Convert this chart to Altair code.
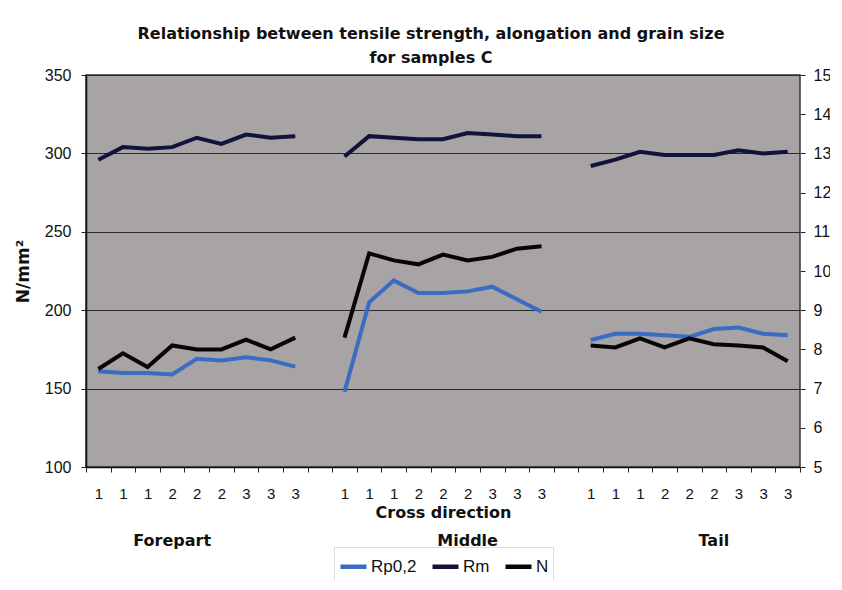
import altair as alt
import pandas as pd

# ---------------- data ----------------
groups = ["Forepart", "Middle", "Tail"]
cross_labels = ["1", "1", "1", "2", "2", "2", "3", "3", "3"]

rp02_fore = [161, 160, 160, 159, 169, 168, 170, 168, 164]
rp02_mid = [148, 205, 219, 211, 211, 212, 215, 207, 199]
rp02_tail = [181, 185, 185, 184, 183, 188, 189, 185, 184]

rm_fore = [296, 304, 303, 304, 310, 306, 312, 310, 311]
rm_mid = [298, 311, 310, 309, 309, 313, 312, 311, 311]
rm_tail = [292, 296, 301, 299, 299, 299, 302, 300, 301]

n_fore = [7.5, 7.9, 7.55, 8.1, 8.0, 8.0, 8.25, 8.0, 8.3]
n_mid = [8.3, 10.45, 10.27, 10.17, 10.42, 10.27, 10.36, 10.57, 10.63]
n_tail = [8.1, 8.05, 8.28, 8.05, 8.28, 8.13, 8.1, 8.05, 7.7]

series_names = ["Rp0,2", "Rm", "N"]
series_colors = ["#3a6cc4", "#12133a", "#060606"]

# ---------------- build tables ----------------
n_per = len(cross_labels)
keys = []
labels = []
group_start = {}
for gi, g in enumerate(groups):
    group_start[g] = len(keys)
    for j in range(n_per):
        keys.append(f"c{len(keys):02d}")
        labels.append(cross_labels[j])
    if gi < len(groups) - 1:
        keys.append(f"c{len(keys):02d}")
        labels.append("")

label_map = ",".join(f"'{k}':'{l}'" for k, l in zip(keys, labels))
label_expr = "{" + label_map + "}[datum.value]"

rows_left = []
rows_right = []
series_data = {
    "Rp0,2": [rp02_fore, rp02_mid, rp02_tail],
    "Rm": [rm_fore, rm_mid, rm_tail],
    "N": [n_fore, n_mid, n_tail],
}
for s, parts in series_data.items():
    for g, vals in zip(groups, parts):
        for j, v in enumerate(vals):
            rec = {"pos": keys[group_start[g] + j], "series": s, "group": g, "value": v}
            (rows_right if s == "N" else rows_left).append(rec)

df_left = pd.DataFrame(rows_left)
df_right = pd.DataFrame(rows_right)

label_pos = [keys[3], keys[15], keys[25]]
df_groups = pd.DataFrame({"pos": label_pos, "group": groups})

FONT = "Liberation Sans"
BFONT = "DejaVu Sans"
W, H = 714, 392

x_enc = alt.X(
    "pos:O",
    sort=keys,
    scale=alt.Scale(domain=keys, paddingInner=0, paddingOuter=0),
    axis=alt.Axis(
        title="Cross direction",
        labelExpr=label_expr,
        labelAngle=0,
        labelFontSize=15,
        labelFont=FONT,
        labelColor="#111",
        labelPadding=14,
        tickBand="extent",
        tickSize=5,
        tickColor="#222",
        domainColor="#111",
        domainWidth=1.5,
        titleFontSize=16,
        titleFont=BFONT,
        titleFontWeight="bold",
        titleColor="#111",
        titlePadding=3,
        titleX=357,
    ),
)

color_enc = alt.Color(
    "series:N",
    scale=alt.Scale(domain=series_names, range=series_colors),
    legend=alt.Legend(
        title=None,
        orient="none",
        legendX=248,
        legendY=472,
        direction="horizontal",
        symbolType="stroke",
        symbolStrokeWidth=4.5,
        symbolSize=676,
        labelFontSize=17,
        labelFont=FONT,
        labelColor="#111",
        labelOffset=2,
        columnPadding=6,
        strokeColor="#dddddd",
        padding=4,
        fillColor="white",
    ),
)

left = alt.Chart(df_left).mark_line(strokeWidth=4).encode(
    x=x_enc,
    y=alt.Y(
        "value:Q",
        scale=alt.Scale(domain=[100, 350], nice=False),
        axis=alt.Axis(
            title="N/mm²",
            values=[100, 150, 200, 250, 300, 350],
            grid=True,
            gridColor="#2b2b2b",
            gridWidth=1.2,
            labelFontSize=16,
            labelFont=FONT,
            labelColor="#111",
            labelPadding=10,
            tickSize=5,
            tickColor="#222",
            domainColor="#111",
            domainWidth=1.5,
            titleFontSize=17,
            titleFont=BFONT,
            titleFontWeight="bold",
            titleColor="#111",
            titlePadding=12,
        ),
    ),
    color=color_enc,
    detail="group:N",
)

right = alt.Chart(df_right).mark_line(strokeWidth=4).encode(
    x=x_enc,
    y=alt.Y(
        "value:Q",
        scale=alt.Scale(domain=[5, 15], nice=False),
        axis=alt.Axis(
            title=None,
            orient="right",
            values=list(range(5, 16)),
            grid=False,
            labelFontSize=16,
            labelFont=FONT,
            labelColor="#111",
            labelPadding=8,
            tickSize=5,
            tickColor="#222",
            domainColor="#666",
        ),
    ),
    color=color_enc,
    detail="group:N",
)

group_text = alt.Chart(df_groups).mark_text(
    fontSize=16, font=BFONT, fontWeight="bold", color="#111", baseline="middle"
).encode(
    x=x_enc,
    y=alt.value(H + 74),
    text="group:N",
)

chart = (
    alt.layer(left, right, group_text)
    .resolve_scale(y="independent")
    .properties(
        width=W,
        height=H,
        autosize=alt.AutoSizeParams(type="none"),
        padding={"left": 78, "top": 67, "right": 30, "bottom": 113},
        title=alt.TitleParams(
            text=[
                "Relationship between tensile strength, alongation and grain size",
                "for samples C",
            ],
            fontSize=16,
            font=BFONT,
            fontWeight="bold",
            color="#111",
            anchor="middle",
            dx=-12,
            offset=1,
            lineHeight=24,
        ),
        background="white",
    )
    .configure_view(fill="#a8a3a4", stroke="#333333", strokeWidth=1.5)
)

chart.save("out.html", embed_options={"renderer": "svg", "actions": False})
